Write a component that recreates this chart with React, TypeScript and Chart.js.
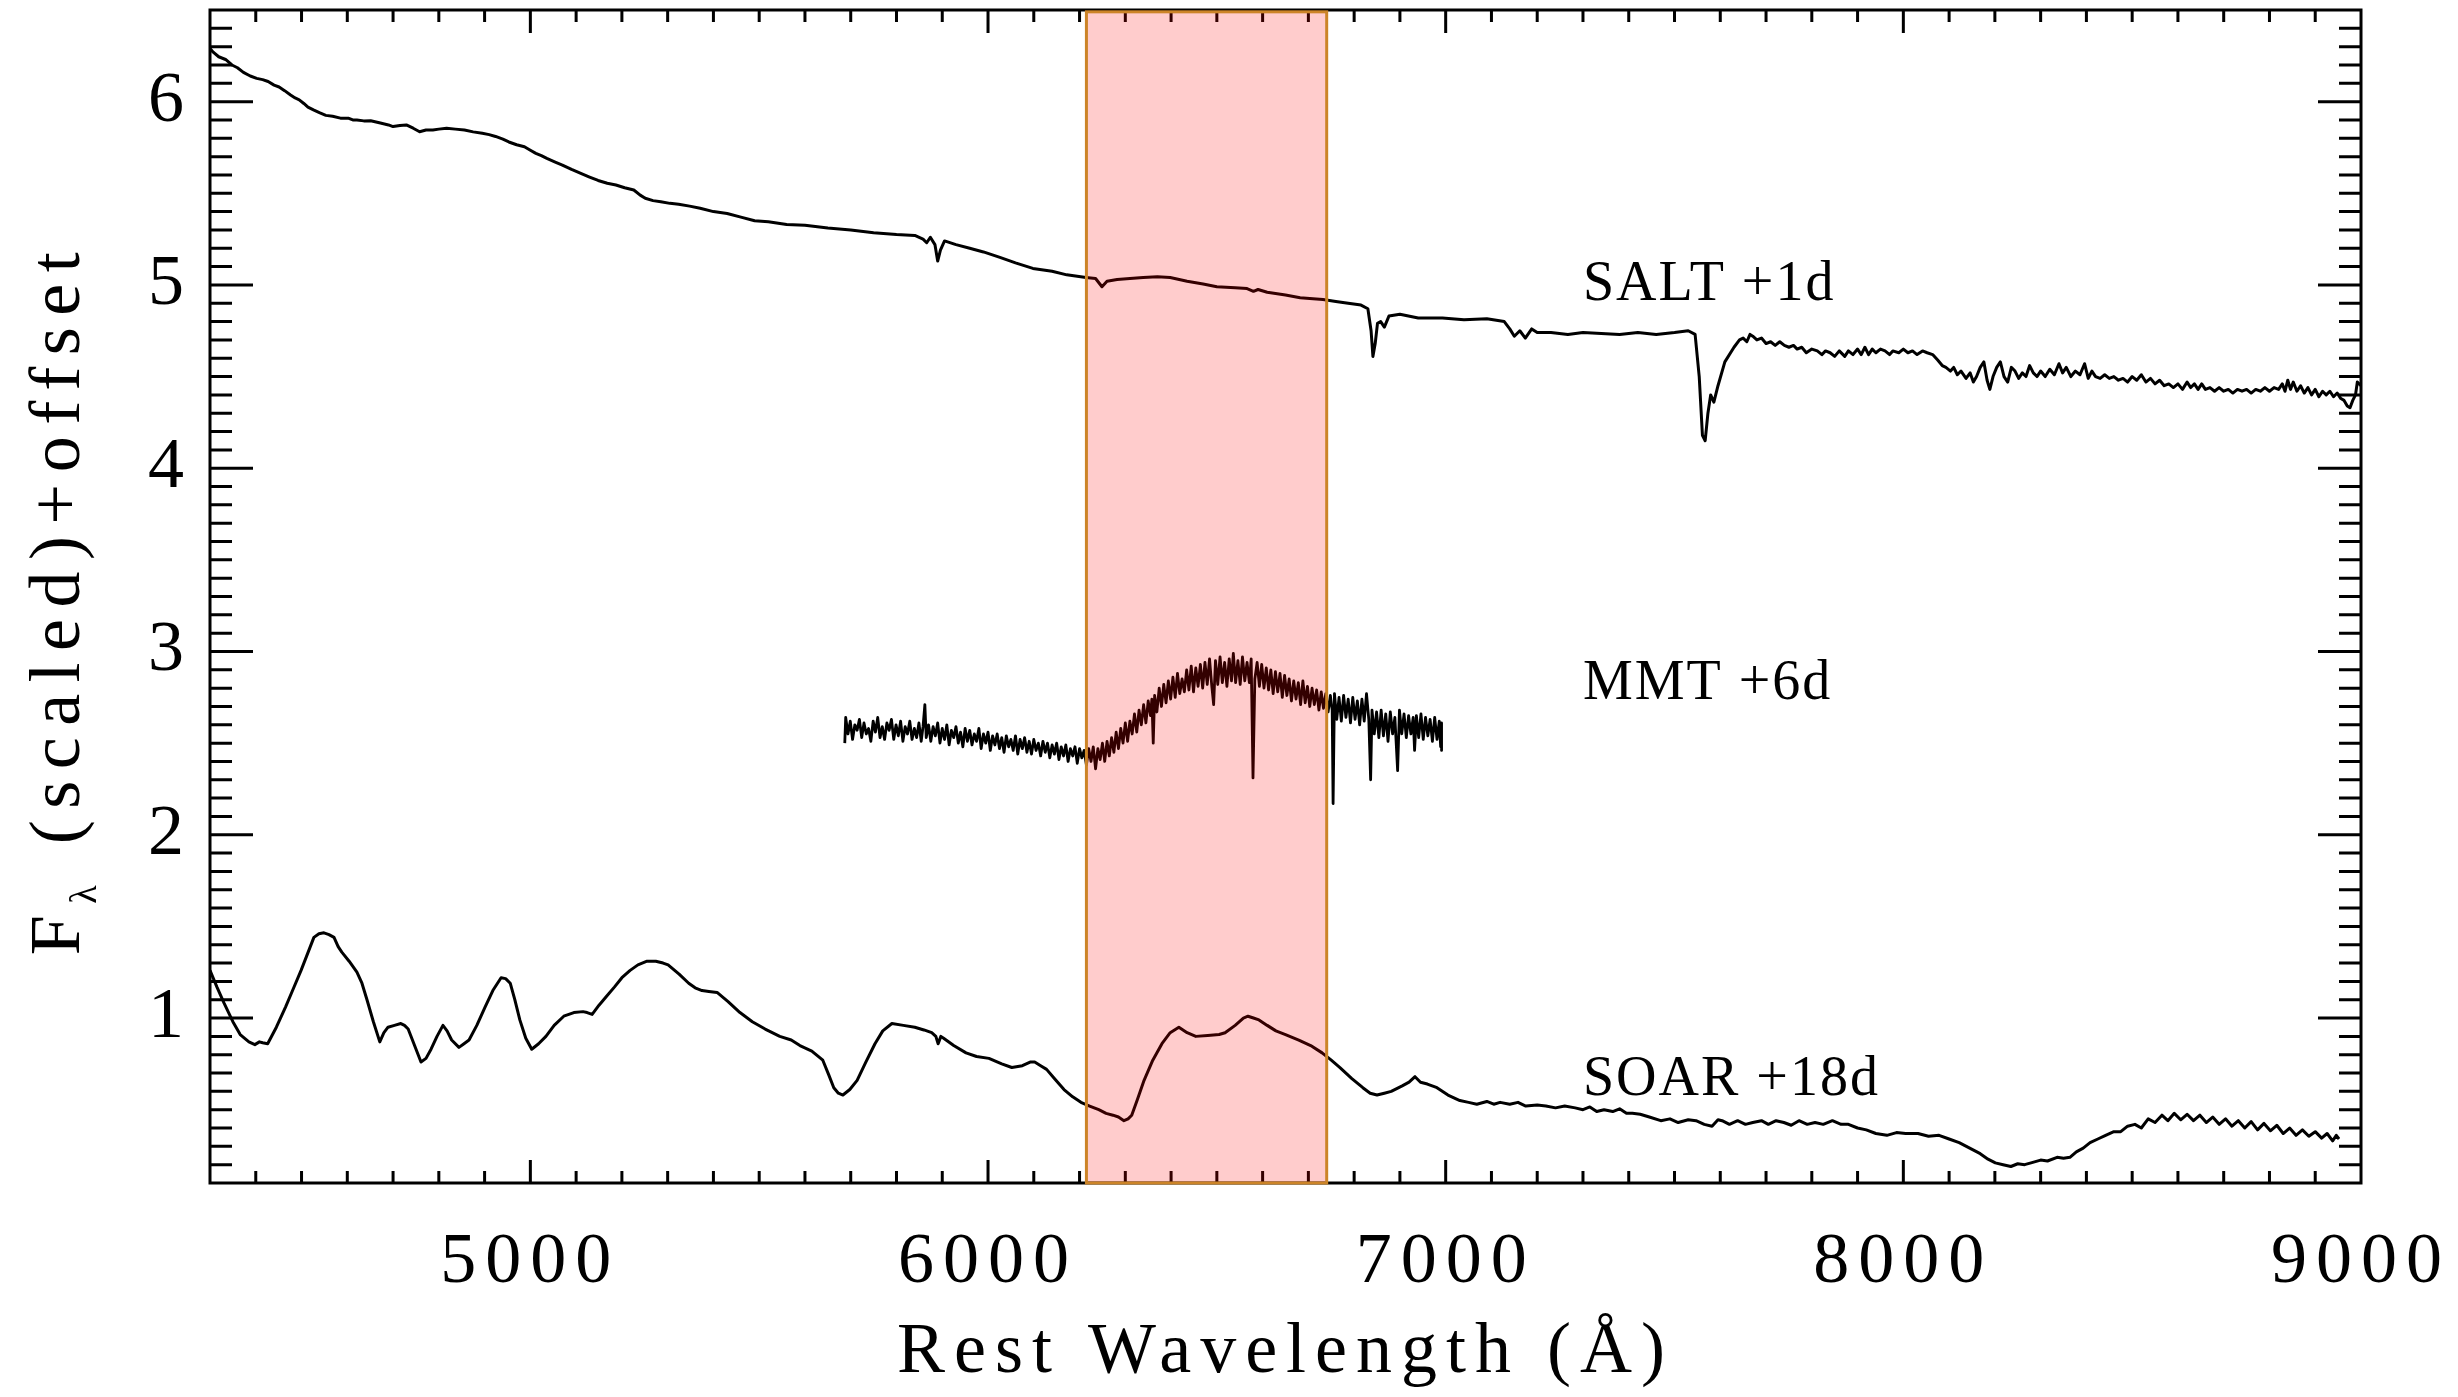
import React, { useEffect, useRef } from "react";
import { Chart, registerables } from "chart.js";

Chart.register(...registerables);

// ---------------- data ----------------
const X_MIN = 4300;
const X_MAX = 9000;
const Y_MIN = 0.1;
const Y_MAX = 6.5;
const X_TICK_LABELS = [5000, 6000, 7000, 8000, 9000];
const Y_TICK_LABELS = [1, 2, 3, 4, 5, 6];
const X_TITLE = "Rest Wavelength (Å)";
const Y_TITLE_MAIN = "F";
const Y_TITLE_SUB = "λ";
const Y_TITLE_REST = " (scaled)+offset";
const HIGHLIGHT_X = [6215, 6740];
const HIGHLIGHT_Y = [0.1, 6.49];
const SERIES_NAMES = ["SALT +1d", "MMT +6d", "SOAR +18d"];
const LABEL_X = [7300, 7300, 7300];
const LABEL_Y = [4.92, 2.74, 0.58];

const SALT_SPECTRUM: [number, number][] = [
  [4300, 6.29], [4307, 6.27], [4319, 6.245], [4334, 6.23], [4348, 6.2], [4360, 6.185], [4373, 6.16], [4388, 6.14],
  [4402, 6.127], [4415, 6.12], [4427, 6.11], [4440, 6.09], [4451, 6.08], [4463, 6.06], [4476, 6.036], [4486, 6.02],
  [4495, 6.01], [4505, 5.99], [4514, 5.97], [4526, 5.955], [4539, 5.94], [4553, 5.925], [4568, 5.92], [4585, 5.91],
  [4602, 5.91], [4612, 5.9], [4621, 5.9], [4636, 5.895], [4651, 5.896], [4670, 5.885], [4690, 5.873], [4700, 5.864],
  [4715, 5.87], [4729, 5.873], [4744, 5.855], [4758, 5.836], [4772, 5.845], [4787, 5.845], [4800, 5.85], [4817, 5.855],
  [4836, 5.85], [4856, 5.845], [4875, 5.835], [4895, 5.827], [4910, 5.82], [4924, 5.81], [4940, 5.795], [4953, 5.78],
  [4970, 5.765], [4987, 5.754], [5000, 5.735], [5012, 5.718], [5024, 5.705], [5036, 5.69], [5053, 5.672], [5070, 5.654],
  [5090, 5.63], [5109, 5.61], [5128, 5.59], [5148, 5.57], [5168, 5.555], [5187, 5.545], [5206, 5.53], [5226, 5.518],
  [5240, 5.49], [5251, 5.473], [5268, 5.46], [5285, 5.454], [5305, 5.445], [5324, 5.44], [5348, 5.43], [5371, 5.418],
  [5400, 5.4], [5430, 5.39], [5460, 5.37], [5490, 5.35], [5520, 5.345], [5560, 5.33], [5600, 5.325], [5650, 5.31],
  [5700, 5.3], [5750, 5.285], [5800, 5.275], [5840, 5.27], [5858, 5.25], [5866, 5.23], [5874, 5.26], [5884, 5.22],
  [5890, 5.13], [5896, 5.19], [5905, 5.24], [5930, 5.22], [5960, 5.2], [5990, 5.18], [6026, 5.15], [6060, 5.12],
  [6098, 5.09], [6140, 5.075], [6172, 5.055], [6214, 5.04], [6235, 5.035], [6249, 4.99], [6260, 5.02], [6282, 5.03],
  [6310, 5.035], [6339, 5.04], [6370, 5.045], [6398, 5.04], [6435, 5.02], [6470, 5.005], [6500, 4.99], [6540, 4.985],
  [6566, 4.98], [6580, 4.965], [6590, 4.975], [6610, 4.96], [6650, 4.945], [6682, 4.93], [6710, 4.925], [6732, 4.92],
  [6760, 4.91], [6787, 4.9], [6815, 4.89], [6830, 4.87], [6837, 4.75], [6841, 4.61], [6846, 4.68], [6851, 4.79],
  [6858, 4.8], [6866, 4.77], [6876, 4.83], [6900, 4.84], [6940, 4.82], [6993, 4.82], [7040, 4.81], [7090, 4.815],
  [7128, 4.8], [7140, 4.76], [7150, 4.72], [7162, 4.75], [7174, 4.71], [7188, 4.76], [7200, 4.74], [7230, 4.74],
  [7267, 4.73], [7300, 4.74], [7340, 4.735], [7380, 4.73], [7420, 4.74], [7460, 4.73], [7500, 4.74], [7530, 4.75],
  [7545, 4.73], [7554, 4.5], [7561, 4.18], [7567, 4.15], [7573, 4.3], [7579, 4.4], [7586, 4.36], [7595, 4.45],
  [7610, 4.58], [7630, 4.66], [7642, 4.7], [7650, 4.71], [7658, 4.69], [7665, 4.73], [7671, 4.72], [7680, 4.7],
  [7690, 4.71], [7700, 4.68], [7710, 4.69], [7720, 4.67], [7730, 4.69], [7740, 4.67], [7750, 4.66], [7760, 4.67],
  [7768, 4.65], [7778, 4.66], [7788, 4.63], [7800, 4.65], [7812, 4.64], [7822, 4.62], [7830, 4.64], [7840, 4.63],
  [7850, 4.61], [7860, 4.64], [7872, 4.61], [7880, 4.64], [7890, 4.62], [7900, 4.65], [7908, 4.62], [7916, 4.66],
  [7924, 4.62], [7932, 4.65], [7940, 4.63], [7950, 4.65], [7960, 4.64], [7970, 4.62], [7977, 4.64], [7990, 4.63],
  [8000, 4.65], [8010, 4.63], [8020, 4.64], [8030, 4.62], [8042, 4.64], [8052, 4.63], [8064, 4.62], [8075, 4.59],
  [8085, 4.56], [8093, 4.55], [8103, 4.53], [8110, 4.55], [8118, 4.51], [8126, 4.53], [8137, 4.49], [8146, 4.52],
  [8153, 4.47], [8160, 4.5], [8168, 4.55], [8176, 4.58], [8183, 4.48], [8189, 4.43], [8196, 4.5], [8204, 4.55],
  [8212, 4.58], [8220, 4.5], [8228, 4.47], [8236, 4.55], [8244, 4.53], [8252, 4.49], [8260, 4.52], [8268, 4.5],
  [8276, 4.56], [8284, 4.52], [8292, 4.5], [8300, 4.53], [8310, 4.5], [8320, 4.54], [8330, 4.51], [8340, 4.57],
  [8348, 4.52], [8356, 4.55], [8366, 4.5], [8376, 4.53], [8386, 4.51], [8396, 4.57], [8404, 4.49], [8412, 4.53],
  [8420, 4.5], [8430, 4.49], [8440, 4.51], [8450, 4.49], [8460, 4.5], [8470, 4.48], [8480, 4.49], [8490, 4.47],
  [8500, 4.5], [8510, 4.48], [8520, 4.51], [8530, 4.47], [8540, 4.49], [8550, 4.46], [8560, 4.48], [8570, 4.45],
  [8580, 4.46], [8590, 4.44], [8600, 4.46], [8610, 4.43], [8620, 4.47], [8628, 4.44], [8636, 4.46], [8644, 4.43],
  [8652, 4.46], [8660, 4.43], [8670, 4.44], [8680, 4.42], [8690, 4.44], [8700, 4.42], [8710, 4.43], [8720, 4.41],
  [8730, 4.43], [8740, 4.42], [8750, 4.43], [8760, 4.41], [8770, 4.43], [8780, 4.42], [8790, 4.44], [8800, 4.42],
  [8810, 4.44], [8820, 4.43], [8828, 4.46], [8834, 4.42], [8840, 4.48], [8846, 4.43], [8852, 4.47], [8860, 4.42],
  [8868, 4.45], [8876, 4.41], [8884, 4.44], [8892, 4.4], [8900, 4.43], [8908, 4.39], [8916, 4.42], [8924, 4.4],
  [8932, 4.42], [8940, 4.39], [8948, 4.41], [8956, 4.38], [8963, 4.37], [8970, 4.34], [8976, 4.33], [8982, 4.37],
  [8988, 4.4], [8992, 4.47], [9000, 4.45],
];

const MMT_SPECTRUM: [number, number][] = [
  [5687, 2.5], [5689, 2.64], [5694, 2.55], [5699, 2.62], [5704, 2.52], [5709, 2.6], [5714, 2.57], [5719, 2.63],
  [5724, 2.53], [5729, 2.61], [5734, 2.55], [5739, 2.58], [5744, 2.51], [5749, 2.62], [5754, 2.56], [5759, 2.64],
  [5764, 2.53], [5769, 2.59], [5774, 2.52], [5779, 2.61], [5784, 2.57], [5789, 2.63], [5794, 2.52], [5799, 2.6],
  [5804, 2.54], [5809, 2.62], [5814, 2.51], [5819, 2.59], [5824, 2.55], [5829, 2.62], [5834, 2.52], [5839, 2.58],
  [5844, 2.53], [5849, 2.61], [5854, 2.51], [5858, 2.59], [5862, 2.71], [5865, 2.53], [5870, 2.6], [5875, 2.51],
  [5880, 2.59], [5885, 2.54], [5890, 2.61], [5895, 2.5], [5900, 2.58], [5905, 2.52], [5910, 2.6], [5915, 2.49],
  [5920, 2.57], [5925, 2.53], [5930, 2.59], [5935, 2.5], [5940, 2.56], [5945, 2.48], [5950, 2.58], [5955, 2.51],
  [5960, 2.57], [5965, 2.49], [5970, 2.55], [5975, 2.51], [5980, 2.58], [5985, 2.47], [5990, 2.55], [5995, 2.5],
  [6000, 2.56], [6005, 2.46], [6010, 2.54], [6015, 2.49], [6020, 2.55], [6025, 2.47], [6030, 2.53], [6035, 2.45],
  [6040, 2.54], [6045, 2.48], [6050, 2.52], [6055, 2.46], [6060, 2.54], [6065, 2.44], [6070, 2.52], [6075, 2.47],
  [6080, 2.53], [6085, 2.45], [6090, 2.51], [6095, 2.44], [6100, 2.52], [6105, 2.46], [6110, 2.5], [6115, 2.43],
  [6120, 2.51], [6125, 2.45], [6130, 2.5], [6135, 2.42], [6140, 2.49], [6145, 2.44], [6150, 2.5], [6155, 2.41],
  [6160, 2.48], [6165, 2.43], [6170, 2.49], [6175, 2.4], [6180, 2.47], [6185, 2.43], [6190, 2.48], [6195, 2.39],
  [6200, 2.47], [6205, 2.42], [6210, 2.46], [6215, 2.38], [6220, 2.47], [6225, 2.4], [6230, 2.48], [6235, 2.36],
  [6240, 2.47], [6245, 2.41], [6250, 2.5], [6255, 2.4], [6260, 2.51], [6265, 2.43], [6270, 2.53], [6275, 2.45],
  [6280, 2.56], [6285, 2.47], [6290, 2.58], [6295, 2.5], [6300, 2.61], [6305, 2.51], [6310, 2.62], [6315, 2.55],
  [6320, 2.66], [6325, 2.56], [6330, 2.68], [6335, 2.6], [6340, 2.71], [6345, 2.61], [6350, 2.73], [6355, 2.65],
  [6358, 2.74], [6361, 2.5], [6364, 2.76], [6369, 2.67], [6374, 2.8], [6379, 2.7], [6384, 2.82], [6389, 2.72],
  [6394, 2.84], [6399, 2.74], [6404, 2.86], [6409, 2.75], [6414, 2.88], [6419, 2.77], [6424, 2.85], [6429, 2.78],
  [6434, 2.9], [6439, 2.79], [6444, 2.92], [6449, 2.78], [6454, 2.91], [6459, 2.81], [6464, 2.93], [6469, 2.8],
  [6474, 2.94], [6479, 2.82], [6484, 2.96], [6489, 2.81], [6493, 2.71], [6497, 2.95], [6502, 2.82], [6507, 2.97],
  [6512, 2.83], [6517, 2.94], [6522, 2.81], [6527, 2.96], [6532, 2.84], [6536, 2.99], [6541, 2.83], [6546, 2.95],
  [6551, 2.82], [6556, 2.97], [6561, 2.84], [6566, 2.94], [6571, 2.83], [6575, 2.96], [6579, 2.31], [6583, 2.85],
  [6588, 2.94], [6593, 2.81], [6598, 2.93], [6603, 2.8], [6608, 2.91], [6613, 2.79], [6618, 2.9], [6623, 2.77],
  [6628, 2.89], [6633, 2.78], [6638, 2.88], [6643, 2.75], [6648, 2.87], [6653, 2.76], [6658, 2.85], [6663, 2.73],
  [6668, 2.84], [6673, 2.74], [6678, 2.83], [6683, 2.71], [6688, 2.84], [6693, 2.72], [6698, 2.81], [6703, 2.7],
  [6708, 2.8], [6713, 2.71], [6718, 2.79], [6723, 2.68], [6728, 2.78], [6733, 2.69], [6738, 2.77], [6743, 2.67],
  [6748, 2.76], [6752, 2.68], [6754, 2.17], [6757, 2.77], [6762, 2.63], [6767, 2.75], [6772, 2.62], [6777, 2.76],
  [6782, 2.64], [6787, 2.74], [6792, 2.61], [6797, 2.75], [6802, 2.63], [6807, 2.73], [6812, 2.6], [6817, 2.74],
  [6822, 2.62], [6827, 2.77], [6832, 2.63], [6836, 2.3], [6839, 2.68], [6844, 2.55], [6849, 2.67], [6854, 2.53],
  [6859, 2.68], [6864, 2.54], [6869, 2.66], [6874, 2.51], [6879, 2.67], [6884, 2.55], [6889, 2.64], [6895, 2.35],
  [6899, 2.68], [6904, 2.55], [6909, 2.66], [6914, 2.53], [6919, 2.65], [6924, 2.55], [6929, 2.64], [6932, 2.46],
  [6936, 2.65], [6941, 2.53], [6946, 2.66], [6951, 2.52], [6956, 2.64], [6961, 2.54], [6966, 2.63], [6971, 2.51],
  [6976, 2.64], [6981, 2.52], [6986, 2.62], [6989, 2.48], [6991, 2.61], [6991, 2.46],
];

const SOAR_SPECTRUM: [number, number][] = [
  [4300, 1.26], [4315, 1.17], [4331, 1.08], [4350, 0.98], [4366, 0.91], [4385, 0.87], [4398, 0.855], [4408, 0.87],
  [4415, 0.865], [4426, 0.86], [4445, 0.95], [4465, 1.06], [4482, 1.16], [4499, 1.26], [4513, 1.35], [4527, 1.44],
  [4538, 1.46], [4549, 1.465], [4560, 1.455], [4571, 1.44], [4580, 1.39], [4588, 1.36], [4604, 1.31], [4621, 1.25],
  [4632, 1.19], [4643, 1.1], [4657, 0.98], [4671, 0.87], [4680, 0.92], [4689, 0.95], [4703, 0.96], [4717, 0.97],
  [4725, 0.96], [4733, 0.94], [4747, 0.85], [4761, 0.76], [4772, 0.78], [4783, 0.83], [4796, 0.9], [4809, 0.96],
  [4818, 0.93], [4828, 0.88], [4844, 0.84], [4855, 0.86], [4866, 0.88], [4883, 0.96], [4901, 1.06], [4918, 1.15],
  [4936, 1.22], [4946, 1.215], [4956, 1.19], [4966, 1.1], [4977, 0.99], [4990, 0.89], [5003, 0.83], [5018, 0.86],
  [5034, 0.9], [5052, 0.96], [5073, 1.01], [5095, 1.03], [5115, 1.035], [5124, 1.03], [5135, 1.02], [5150, 1.07],
  [5167, 1.12], [5184, 1.17], [5200, 1.22], [5218, 1.26], [5235, 1.29], [5255, 1.31], [5274, 1.31], [5290, 1.3],
  [5301, 1.29], [5325, 1.24], [5346, 1.19], [5360, 1.165], [5375, 1.15], [5390, 1.145], [5408, 1.14], [5432, 1.09],
  [5458, 1.03], [5485, 0.98], [5513, 0.94], [5545, 0.9], [5570, 0.88], [5589, 0.85], [5615, 0.82], [5639, 0.77],
  [5652, 0.69], [5663, 0.62], [5673, 0.59], [5683, 0.58], [5698, 0.61], [5714, 0.66], [5733, 0.76], [5753, 0.86],
  [5770, 0.93], [5790, 0.97], [5815, 0.96], [5840, 0.95], [5860, 0.935], [5877, 0.92], [5886, 0.9], [5891, 0.86],
  [5897, 0.9], [5903, 0.89], [5925, 0.85], [5952, 0.81], [5975, 0.79], [6002, 0.78], [6030, 0.75], [6052, 0.73],
  [6075, 0.74], [6092, 0.76], [6102, 0.76], [6115, 0.74], [6128, 0.72], [6145, 0.67], [6166, 0.61], [6185, 0.57],
  [6203, 0.54], [6222, 0.52], [6242, 0.5], [6258, 0.48], [6273, 0.47], [6285, 0.46], [6297, 0.44], [6306, 0.45],
  [6314, 0.47], [6327, 0.56], [6341, 0.66], [6360, 0.77], [6380, 0.86], [6398, 0.92], [6417, 0.95], [6435, 0.92],
  [6454, 0.9], [6480, 0.905], [6505, 0.91], [6518, 0.92], [6540, 0.96], [6558, 1.0], [6568, 1.01], [6580, 1.0],
  [6592, 0.99], [6610, 0.96], [6629, 0.93], [6650, 0.91], [6679, 0.88], [6705, 0.85], [6730, 0.81], [6750, 0.77],
  [6769, 0.73], [6795, 0.67], [6819, 0.62], [6835, 0.59], [6850, 0.58], [6866, 0.59], [6881, 0.6], [6905, 0.63],
  [6920, 0.65], [6933, 0.68], [6945, 0.65], [6960, 0.64], [6981, 0.62], [7005, 0.58], [7031, 0.55], [7050, 0.54],
  [7068, 0.53], [7090, 0.545], [7105, 0.53], [7119, 0.54], [7140, 0.53], [7158, 0.54], [7175, 0.52], [7200, 0.525],
  [7219, 0.52], [7240, 0.51], [7260, 0.52], [7283, 0.51], [7300, 0.5], [7315, 0.515], [7330, 0.49], [7346, 0.5],
  [7365, 0.49], [7380, 0.505], [7395, 0.48], [7408, 0.48], [7425, 0.475], [7445, 0.46], [7470, 0.44], [7490, 0.45],
  [7508, 0.43], [7530, 0.445], [7547, 0.44], [7565, 0.42], [7582, 0.41], [7595, 0.445], [7604, 0.44], [7620, 0.42],
  [7638, 0.44], [7655, 0.42], [7671, 0.43], [7690, 0.44], [7705, 0.42], [7722, 0.44], [7739, 0.43], [7755, 0.415],
  [7772, 0.44], [7790, 0.42], [7807, 0.43], [7825, 0.42], [7845, 0.44], [7864, 0.42], [7880, 0.42], [7900, 0.4],
  [7919, 0.39], [7940, 0.37], [7964, 0.36], [7985, 0.375], [8005, 0.37], [8032, 0.37], [8055, 0.355], [8078, 0.36],
  [8100, 0.34], [8122, 0.32], [8145, 0.29], [8168, 0.26], [8185, 0.23], [8201, 0.21], [8218, 0.2], [8235, 0.19],
  [8250, 0.205], [8265, 0.2], [8279, 0.21], [8300, 0.225], [8315, 0.22], [8336, 0.24], [8350, 0.235], [8364, 0.24],
  [8378, 0.27], [8393, 0.29], [8408, 0.32], [8425, 0.34], [8442, 0.36], [8460, 0.38], [8475, 0.38], [8490, 0.41],
  [8506, 0.42], [8520, 0.4], [8535, 0.45], [8550, 0.43], [8565, 0.47], [8578, 0.44], [8592, 0.48], [8606, 0.445],
  [8620, 0.475], [8634, 0.44], [8648, 0.47], [8662, 0.43], [8676, 0.46], [8690, 0.42], [8704, 0.45], [8718, 0.41],
  [8732, 0.44], [8746, 0.4], [8760, 0.435], [8774, 0.39], [8788, 0.425], [8802, 0.385], [8816, 0.415], [8830, 0.37],
  [8844, 0.4], [8858, 0.36], [8872, 0.39], [8886, 0.355], [8900, 0.38], [8914, 0.345], [8926, 0.37], [8938, 0.33],
  [8946, 0.36], [8952, 0.34],
];

// ---------------- styling ----------------
const SERIF = '"Liberation Serif", "Times New Roman", serif';
const W = 2458;
const H = 1397;

const idlFramePlugin = {
  id: "idlFrame",
  beforeDraw(chart: any) {
    (chart.ctx as any).letterSpacing = "9px";
  },
  beforeDatasetsDraw(chart: any) {
    const ctx = chart.ctx;
    (ctx as any).letterSpacing = "0px";
    const { left, right, top, bottom } = chart.chartArea;
    const xs = chart.scales.x;
    const ys = chart.scales.y;
    ctx.save();
    ctx.strokeStyle = "#000";
    ctx.lineWidth = 3;
    ctx.lineCap = "butt";
    ctx.beginPath();
    for (let v = X_MIN + 100; v < X_MAX; v += 100) {
      const major = v % 1000 === 0;
      const len = major ? 23 : 12;
      const px = xs.getPixelForValue(v);
      ctx.moveTo(px, bottom);
      ctx.lineTo(px, bottom - len);
      ctx.moveTo(px, top);
      ctx.lineTo(px, top + len);
    }
    for (let i = 2; i < 65; i++) {
      const v = i / 10;
      const major = i % 10 === 0;
      const len = major ? 43 : 22;
      const py = ys.getPixelForValue(v);
      ctx.moveTo(left, py);
      ctx.lineTo(left + len, py);
      ctx.moveTo(right, py);
      ctx.lineTo(right - len, py);
    }
    ctx.stroke();
    ctx.strokeRect(left, top, right - left, bottom - top);
    ctx.restore();
  },
  afterDatasetsDraw(chart: any) {
    const ctx = chart.ctx;
    const xs = chart.scales.x;
    const ys = chart.scales.y;
    // highlighted band
    const x0 = xs.getPixelForValue(HIGHLIGHT_X[0]);
    const x1 = xs.getPixelForValue(HIGHLIGHT_X[1]);
    const y0 = ys.getPixelForValue(HIGHLIGHT_Y[1]);
    const y1 = ys.getPixelForValue(HIGHLIGHT_Y[0]);
    ctx.save();
    ctx.fillStyle = "rgba(255,0,0,0.2)";
    ctx.fillRect(x0, y0, x1 - x0, y1 - y0);
    ctx.strokeStyle = "rgb(204,132,40)";
    ctx.lineWidth = 3;
    ctx.strokeRect(x0, y0, x1 - x0, y1 - y0);
    ctx.restore();

    // series labels
    ctx.save();
    (ctx as any).letterSpacing = "2px";
    ctx.fillStyle = "#000";
    ctx.font = `56px ${SERIF}`;
    ctx.textAlign = "left";
    ctx.textBaseline = "alphabetic";
    SERIES_NAMES.forEach((name, i) => {
      ctx.fillText(name, xs.getPixelForValue(LABEL_X[i]), ys.getPixelForValue(LABEL_Y[i]));
    });
    ctx.restore();

    // y-axis title with subscript
    ctx.save();
    (ctx as any).letterSpacing = "11.5px";
    ctx.fillStyle = "#000";
    ctx.textAlign = "left";
    ctx.textBaseline = "alphabetic";
    const mainFont = `72px ${SERIF}`;
    const subFont = `38px ${SERIF}`;
    ctx.font = mainFont;
    const wF = ctx.measureText(Y_TITLE_MAIN).width;
    const wR = ctx.measureText(Y_TITLE_REST).width;
    ctx.font = subFont;
    const wL = ctx.measureText(Y_TITLE_SUB).width;
    const total = wF + wL + wR;
    ctx.translate(79, 598);
    ctx.rotate(-Math.PI / 2);
    let x = -total / 2;
    ctx.font = mainFont;
    ctx.fillText(Y_TITLE_MAIN, x, 0);
    x += wF;
    ctx.font = subFont;
    ctx.fillText(Y_TITLE_SUB, x, 17);
    x += wL;
    ctx.font = mainFont;
    ctx.fillText(Y_TITLE_REST, x, 0);
    ctx.restore();
  },
};

const toPoints = (arr: [number, number][]) => arr.map(([x, y]) => ({ x, y }));

export default function App() {
  const canvasRef = useRef<HTMLCanvasElement | null>(null);

  useEffect(() => {
    const canvas = canvasRef.current;
    if (!canvas) return;
    const lineStyle = {
      showLine: true,
      borderColor: "#000",
      backgroundColor: "#000",
      borderWidth: 3,
      pointRadius: 0,
      pointHoverRadius: 0,
      tension: 0,
      borderJoinStyle: "round" as const,
    };
    const chart = new Chart(canvas, {
      type: "scatter",
      data: {
        datasets: [
          { label: SERIES_NAMES[0], data: toPoints(SALT_SPECTRUM), ...lineStyle },
          { label: SERIES_NAMES[1], data: toPoints(MMT_SPECTRUM), ...lineStyle, borderWidth: 2.8 },
          { label: SERIES_NAMES[2], data: toPoints(SOAR_SPECTRUM), ...lineStyle },
        ],
      },
      options: {
        responsive: false,
        animation: false,
        devicePixelRatio: 1,
        events: [],
        layout: { padding: { left: 0, top: 10, right: W - 2361, bottom: 0 } },
        plugins: {
          legend: { display: false },
          tooltip: { enabled: false },
        },
        scales: {
          x: {
            type: "linear",
            min: X_MIN,
            max: X_MAX,
            afterFit: (scale: any) => {
              scale.height = H - 1183;
              scale.paddingLeft = 0;
              scale.paddingRight = 0;
              scale.paddingTop = 0;
              scale.paddingBottom = 0;
            },
            afterBuildTicks: (scale: any) => {
              scale.ticks = X_TICK_LABELS.map((v) => ({ value: v }));
            },
            grid: { display: false, drawTicks: false },
            border: { display: false },
            ticks: {
              color: "#000",
              font: { family: SERIF, size: 72 },
              padding: 37,
              maxRotation: 0,
              autoSkip: false,
              callback: (v: any) => String(v),
            },
            title: {
              display: true,
              text: X_TITLE,
              color: "#000",
              font: { family: SERIF, size: 72 },
              padding: { top: 0, bottom: 1 },
            },
          },
          y: {
            type: "linear",
            min: Y_MIN,
            max: Y_MAX,
            afterFit: (scale: any) => {
              scale.width = 210;
              scale.paddingLeft = 0;
              scale.paddingRight = 0;
              scale.paddingTop = 0;
              scale.paddingBottom = 0;
            },
            afterBuildTicks: (scale: any) => {
              scale.ticks = Y_TICK_LABELS.map((v) => ({ value: v }));
            },
            grid: { display: false, drawTicks: false },
            border: { display: false },
            ticks: {
              color: "#000",
              font: { family: SERIF, size: 72 },
              padding: 17,
              autoSkip: false,
              callback: (v: any) => String(v),
            },
          },
        },
      },
      plugins: [idlFramePlugin],
    });
    return () => chart.destroy();
  }, []);

  return (
    <div style={{ position: "absolute", left: 0, top: 0, width: W, height: H, background: "#fff" }}>
      <canvas ref={canvasRef} width={W} height={H} style={{ display: "block", width: W, height: H }} />
    </div>
  );
}
